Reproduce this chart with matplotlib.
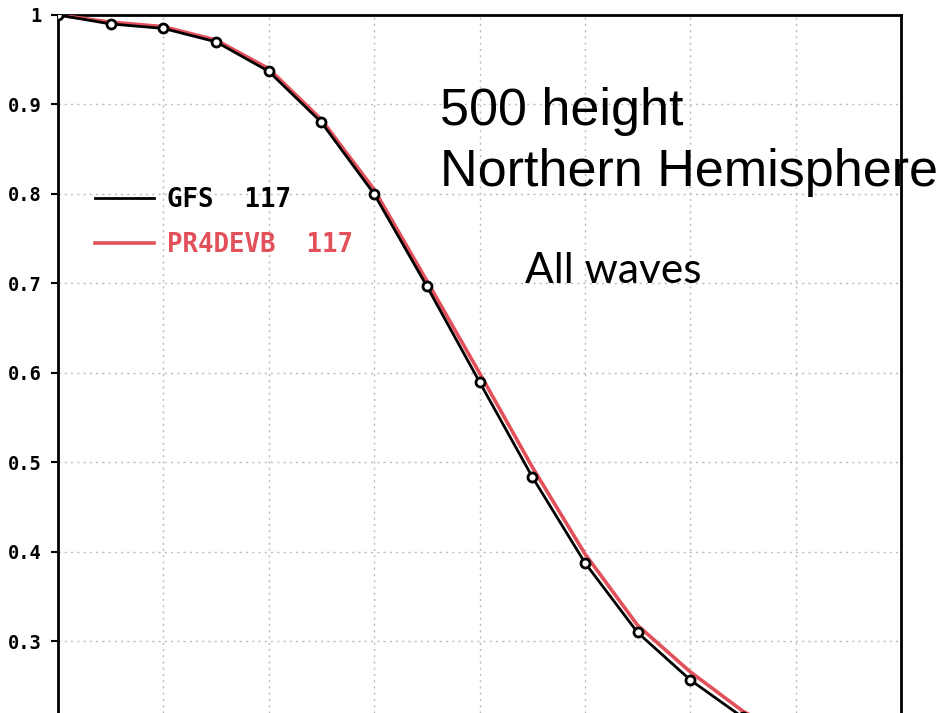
import matplotlib
matplotlib.use('Agg')
import matplotlib.pyplot as plt
from matplotlib.ticker import FixedLocator, NullLocator

# forecast day (markers every 12 h)
days = [0, 0.5, 1, 1.5, 2, 2.5, 3, 3.5, 4, 4.5, 5, 5.5, 6, 6.5, 7, 7.5, 8]

gfs = [1.0, 0.990, 0.985, 0.970, 0.937, 0.880, 0.800, 0.697, 0.590, 0.484,
       0.388, 0.310, 0.257, 0.215, 0.180, 0.150, 0.130]
pr4devb = [1.0, 0.992, 0.987, 0.972, 0.940, 0.883, 0.805, 0.703, 0.600, 0.495,
           0.398, 0.318, 0.266, 0.222, 0.190, 0.160, 0.140]

legend_labels = ['GFS  117', 'PR4DEVB  117']
ytick_vals = [0.3, 0.4, 0.5, 0.6, 0.7, 0.8, 0.9, 1.0]
ytick_labels = ['0.3', '0.4', '0.5', '0.6', '0.7', '0.8', '0.9', '1']

red = '#e2505a'

W, H = 951, 713
fig = plt.figure(figsize=(W / 100, H / 100), dpi=100)
# axes: left spine x=58, right spine x=901, value 1.0 at y=15, bottom cut off
ax = fig.add_axes([58 / W, 0, (901 - 58) / W, (H - 15) / H])

ax.plot(days, pr4devb, color=red, lw=2.6, zorder=3, label=legend_labels[1])
ax.plot(days, gfs, color='black', lw=2.0, marker='o', ms=6.5, mfc='white',
        mec='black', mew=2, zorder=4, label=legend_labels[0])

ax.set_xlim(0, 8)
ax.set_ylim(0.22, 1.0)

ax.xaxis.set_major_locator(FixedLocator(range(0, 9)))
ax.set_xticklabels([])
ax.tick_params(axis='x', length=0)
ax.yaxis.set_major_locator(FixedLocator(ytick_vals))
ax.yaxis.set_minor_locator(NullLocator())
ax.set_yticklabels(ytick_labels, fontfamily='DejaVu Sans Mono',
                   fontweight='bold', fontsize=13.5)
ax.tick_params(axis='y', direction='out', length=5, width=1.5, pad=7)

ax.spines['bottom'].set_visible(False)
for s in ['left', 'right', 'top']:
    ax.spines[s].set_linewidth(2)

# 网格
ax.set_axisbelow(True)
ax.grid(True, which='major', color='#bbbbbb', linestyle=(0, (1.5, 3)),
        linewidth=1.0)

h, l = ax.get_legend_handles_labels()
leg = ax.legend(h[::-1], l[::-1], loc='upper left',
                bbox_to_anchor=(72 / W, 1 - 164 / H),
                bbox_transform=fig.transFigure, frameon=False,
                prop={'family': 'DejaVu Sans Mono', 'weight': 'bold', 'size': 18.5},
                handlelength=2.3, handletextpad=0.5, labelspacing=0.75,
                labelcolor='linecolor')
for ln in leg.get_lines():
    ln.set_marker('')

fig.text(440 / W, 1 - 125 / H, '500 height',
         fontfamily='Liberation Sans', fontsize=37.5, ha='left', va='baseline')
fig.text(440 / W, 1 - 186 / H, 'Northern Hemisphere',
         fontfamily='Liberation Sans', fontsize=37.5, ha='left', va='baseline')
fig.text(525 / W, 1 - 283 / H, 'All waves', fontfamily='Lato', fontsize=30.5,
         ha='left', va='baseline')

plt.savefig('out.png', dpi=100)
